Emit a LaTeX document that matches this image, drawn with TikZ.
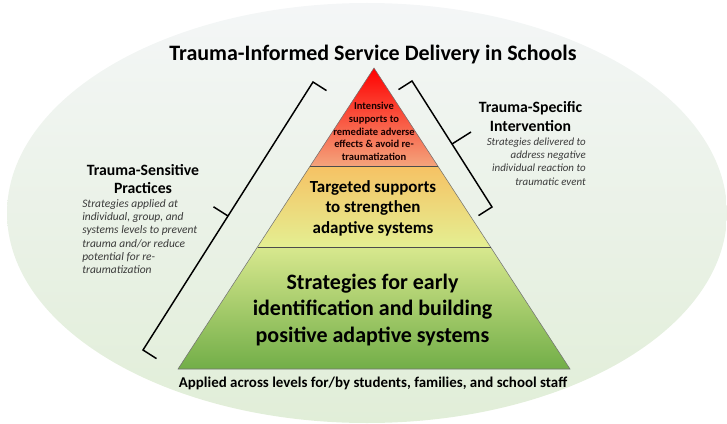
\documentclass[tikz,border=0pt]{standalone}
\usepackage{fontspec}
\setmainfont{Carlito}
\usepackage{tikz}

\definecolor{ovaltop}{HTML}{F4F6F7}
\definecolor{ovalbot}{HTML}{E1EED8}
\definecolor{tipred}{HTML}{FF0000}
\definecolor{tipsalmon}{HTML}{F4A47C}
\definecolor{midorange}{HTML}{F6C264}
\definecolor{midyellow}{HTML}{E4EF92}
\definecolor{baselight}{HTML}{D8E88E}
\definecolor{basegreen}{HTML}{72AE48}
\definecolor{notegray}{HTML}{3A3A3A}

\tikzset{
  bracket/.style={draw=black, line width=1.1pt},
  tier/.style={draw=black!70, line width=0.5pt},
  head/.style={inner sep=0.75pt, align=center, font=\bfseries\fontsize{11.8}{13.8}\selectfont},
  note/.style={inner sep=0.75pt, text=notegray, font=\itshape\fontsize{8.2}{10}\selectfont}
}

\begin{document}
\begin{tikzpicture}[x=0.75pt,y=0.75pt,yscale=-1,xscale=1]
\useasboundingbox (0,0) rectangle (727,424);

%Shape: Ellipse [background oval]
\shade[top color=ovaltop, bottom color=ovalbot] (367,213) ellipse (360 and 210);

%Shape: Triangle [tip]
\shade[top color=tipred, bottom color=tipsalmon] (374,68) -- (438,166) -- (310,166) -- cycle;
%Shape: Trapezoid [middle]
\shade[top color=midorange, bottom color=midyellow] (310,166) -- (438,166) -- (490.5,247) -- (257.5,247) -- cycle;
%Shape: Trapezoid [base]
\shade[top color=baselight, bottom color=basegreen] (257.5,247) -- (490.5,247) -- (570,369) -- (178,369) -- cycle;
%Straight Lines [outline]
\draw [draw=black!55, line width=0.4pt] (374,68) -- (570,369) -- (178,369) -- cycle;
%Straight Lines [tier borders]
\draw [tier] (310,166) -- (438,166);
\draw [tier] (257.5,247) -- (490.5,247);

%Straight Lines [left bracket]
\draw [bracket] (326.5,90.6) -- (313,82) -- (143,350) -- (156.5,358.6);
\draw [bracket] (228,216) -- (213.5,206.8);
%Straight Lines [right bracket]
\draw [bracket] (398.5,89.6) -- (412,81) -- (492,207) -- (478.5,215.6);
\draw [bracket] (452,144) -- (471,132);

% Text Node
\draw (373,55) node [inner sep=0.75pt, font=\bfseries\fontsize{16.5}{18}\selectfont] (title) {Trauma-Informed Service Delivery in Schools};
% Text Node
\draw (374,131.5) node [inner sep=0.75pt, align=center, text=black!90!red, font=\bfseries\fontsize{7.9}{9.5}\selectfont] (tiptext) {Intensive\\supports to\\remediate adverse\\effects \& avoid re-\\traumatization};
% Text Node
\draw (373,208) node [inner sep=0.75pt, align=center, font=\bfseries\fontsize{12.7}{15.4}\selectfont] (midtext) {Targeted supports\\to strengthen\\adaptive systems};
% Text Node
\draw (372.5,310) node [inner sep=0.75pt, align=center, font=\bfseries\fontsize{16.5}{20}\selectfont] (basetext) {Strategies for early\\identification and building\\positive adaptive systems};
% Text Node
\draw (373,383) node [inner sep=0.75pt, font=\bfseries\fontsize{11.2}{13}\selectfont] (applied) {Applied across levels for/by students, families, and school staff};
% Text Node
\draw (143,179) node [head] (tsp) {Trauma-Sensitive\\Practices};
% Text Node
\draw (81,236.5) node [note, anchor=west, align=left, font=\itshape\fontsize{8.6}{10}\selectfont] (tspnote) {Strategies applied at\\individual, group, and\\systems levels to prevent\\trauma and/or reduce\\potential for re-\\traumatization};
% Text Node
\draw (530.5,116.5) node [head] (tsi) {Trauma-Specific\\Intervention};
% Text Node
\draw (587,161.5) node [note, anchor=east, align=right] (tsinote) {Strategies delivered to\\address negative\\individual reaction to\\traumatic event};

\end{tikzpicture}
\end{document}
